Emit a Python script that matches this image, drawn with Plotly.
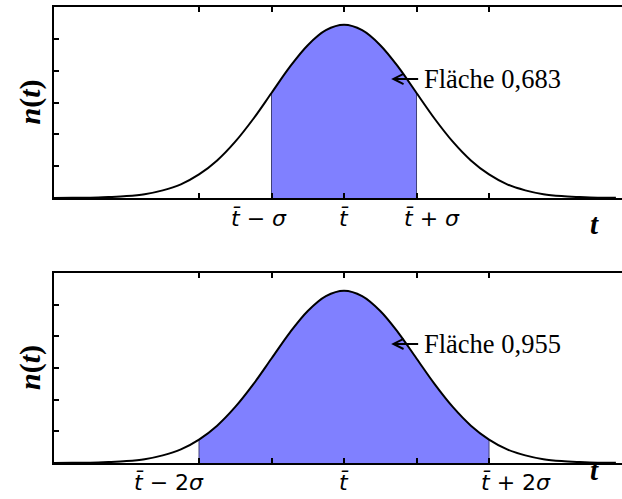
import plotly.graph_objects as go
from plotly.subplots import make_subplots

# curve: t in units of sigma relative to t-bar, n(t) in tick units
t_vals = [-4.0, -3.75, -3.5, -3.25, -3.0, -2.75, -2.5, -2.25, -2.0, -1.75, -1.5, -1.25,
          -1.0, -0.75, -0.5, -0.25, 0.0, 0.25, 0.5, 0.75, 1.0, 1.25, 1.5, 1.75,
          2.0, 2.25, 2.5, 2.75, 3.0, 3.25, 3.5, 3.75]
n_vals = [0.002, 0.005, 0.01, 0.03, 0.06, 0.12, 0.24, 0.43, 0.74, 1.18, 1.77, 2.49,
          3.30, 4.11, 4.80, 5.27, 5.44, 5.27, 4.80, 4.11, 3.30, 2.49, 1.77, 1.18,
          0.74, 0.43, 0.24, 0.12, 0.06, 0.03, 0.01, 0.005]

shade_limits = [1, 2]          # +- k sigma for each panel
area_texts = ["Fläche 0,683", "Fläche 0,955"]
tick_pos = [-2, -1, 0, 1, 2]
label_text_top = ["<i>t̄</i> − <i>σ</i>", "<i>t̄</i>", "<i>t̄</i> + <i>σ</i>"]
label_pos_top = [-1.17, 0.0, 1.21]
label_text_bot = ["<i>t̄</i> − 2<i>σ</i>", "<i>t̄</i>", "<i>t̄</i> + 2<i>σ</i>"]
label_pos_bot = [-2.41, 0.0, 2.37]
y_ticks = [1, 2, 3, 4, 5]
arrow_tip = [(0.65, 3.74), (0.65, 3.76)]

fig = make_subplots(rows=2, cols=1)

doms = [[0.5811, 1.0], [0.0, 0.4167]]
label_texts = [label_text_top, label_text_bot]
label_poss = [label_pos_top, label_pos_bot]

L, R, T, B = 54, 0, 7, 36
W, H = 622, 499

def py_to_paper(py):
    return (H - B - py) / (H - T - B)

def px_to_paper(px):
    return (px - L) / (W - L - R)

for i, k in enumerate(shade_limits):
    r = i + 1
    xr = "x" if r == 1 else "x2"
    yr = "y" if r == 1 else "y2"
    xs = [x for x in t_vals if -k <= x <= k]
    ys = [n for x, n in zip(t_vals, n_vals) if -k <= x <= k]
    fig.add_trace(go.Scatter(x=xs, y=ys, mode="lines", fill="tozeroy",
                             fillcolor="#8080ff", line=dict(color="#8080ff", width=0.5, shape="spline"),
                             hoverinfo="skip", showlegend=False), row=r, col=1)
    for xe, ye in [(xs[0], ys[0]), (xs[-1], ys[-1])]:
        fig.add_trace(go.Scatter(x=[xe, xe], y=[0, ye], mode="lines",
                                 line=dict(color="#40407a", width=1),
                                 hoverinfo="skip", showlegend=False), row=r, col=1)
    fig.add_trace(go.Scatter(x=t_vals, y=n_vals, mode="lines",
                             line=dict(color="black", width=2, shape="spline"),
                             hoverinfo="skip", showlegend=False), row=r, col=1)

    xa = "xaxis" if r == 1 else "xaxis2"
    ya = "yaxis" if r == 1 else "yaxis2"
    fig.layout[xa].update(range=[-4, 3.834], tickvals=tick_pos, showticklabels=False,
                          ticks="inside", ticklen=5, tickwidth=1.5, tickcolor="black",
                          showline=True, linecolor="black", linewidth=2, mirror="ticks",
                          showgrid=False, zeroline=False)
    fig.layout[ya].update(range=[0, 6], domain=doms[i], tickvals=y_ticks,
                          showticklabels=False,
                          ticks="inside", ticklen=5, tickwidth=1.5, tickcolor="black",
                          showline=True, linecolor="black", linewidth=2, mirror=False,
                          showgrid=False, zeroline=False)

    # tick labels (placed as in the reference, slightly outward of the ticks)
    for lt, lp in zip(label_texts[i], label_poss[i]):
        fig.add_annotation(x=lp, y=py_to_paper([218, 482][i]), xref=xr, yref="paper",
                           text=lt, showarrow=False, xanchor="center", yanchor="middle",
                           font=dict(family="DejaVu Sans", size=22, color="black"))

    tx, ty = arrow_tip[i]
    fig.add_annotation(x=tx, y=ty, xref=xr, yref=yr,
                       text=area_texts[i], showarrow=True, ax=27, ay=0,
                       xanchor="left", yanchor="middle", borderpad=5,
                       arrowhead=5, arrowsize=1, arrowwidth=2, arrowcolor="black", standoff=0,
                       font=dict(family="Liberation Serif", size=26.5, color="black"))
    # y label
    fig.add_annotation(x=px_to_paper(30), y=sum(doms[i]) / 2, xref="paper", yref="paper",
                       text="<b><i>n</i>(<i>t</i>)</b>", textangle=-90, showarrow=False,
                       xanchor="center", yanchor="middle",
                       font=dict(family="Liberation Serif", size=30, color="black"))
    # x label
    fig.add_annotation(x=px_to_paper(601), y=py_to_paper([224, 488][i]), xref="paper", yref="paper",
                       text="<b><i>t</i></b>", showarrow=False,
                       font=dict(family="Liberation Serif", size=29, color="black"))

fig.update_layout(width=W, height=H, margin=dict(l=L, r=R, t=T, b=B),
                  plot_bgcolor="white", paper_bgcolor="white", showlegend=False)
fig.write_html("out.html", config={"displayModeBar": False},
               post_script="document.body.style.margin='0';document.body.style.overflow='hidden';")
